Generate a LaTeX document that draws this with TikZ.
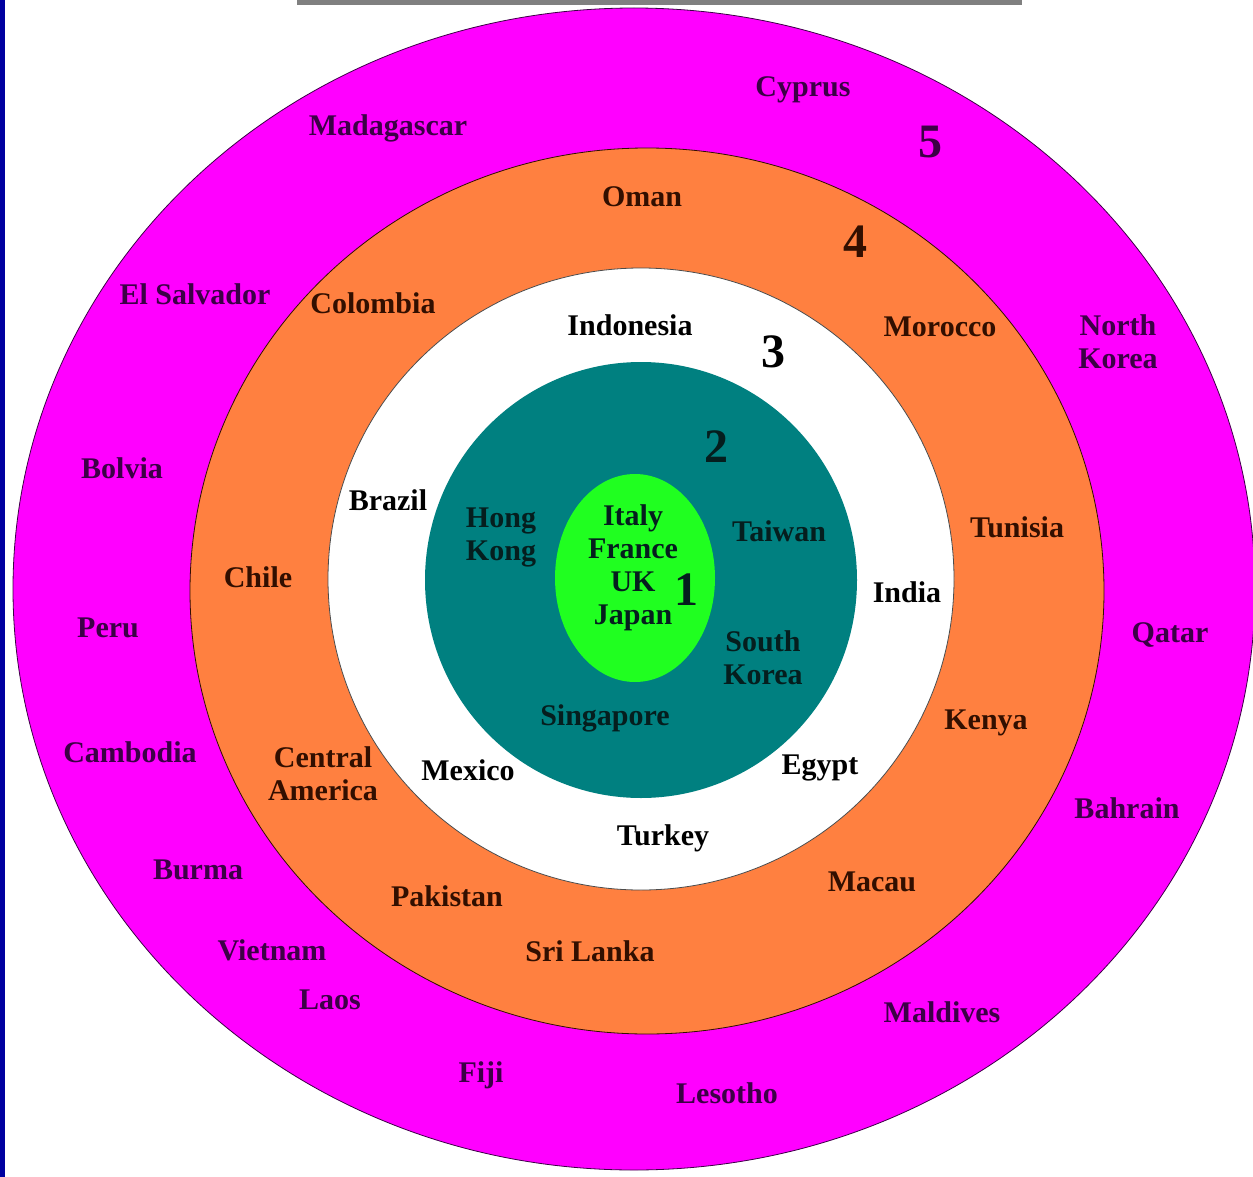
\documentclass[tikz,border=0pt]{standalone}
\usepackage{fontspec}
\setmainfont{Liberation Serif}
\definecolor{ringfive}{RGB}{255,0,255}
\definecolor{ringfour}{RGB}{255,128,64}
\definecolor{ringtwo}{RGB}{0,128,128}
\definecolor{ringone}{RGB}{32,255,32}
\definecolor{sidebar}{RGB}{0,0,160}
\definecolor{inkfive}{RGB}{60,0,70}
\definecolor{inkfour}{RGB}{50,15,0}
\definecolor{inktwo}{RGB}{5,30,30}
\tikzset{
  country/.style={font=\fontsize{15}{16.5}\selectfont\bfseries, align=center, inner sep=0pt},
  ringnum/.style={font=\fontsize{24}{26}\selectfont\bfseries, inner sep=0pt},
}
\begin{document}
\begin{tikzpicture}[x=0.5pt,y=-0.5pt]
\useasboundingbox (0,0) rectangle (1253,1177);
\fill[white] (0,0) rectangle (1253,1177);
\fill[sidebar] (0,0) rectangle (5,1177);
\fill[gray] (297,0) rectangle (1022,5);
% rings, outside in
\draw[fill=ringfive, draw=inkfive, line width=0.4pt] (634,589) ellipse [x radius=621, y radius=581];
\draw[fill=ringfour, draw=inkfour, line width=0.4pt] (647,591) ellipse [x radius=457, y radius=443];
\draw[fill=white, draw=black!70, line width=0.4pt] (641,579) ellipse [x radius=313, y radius=311];
\fill[ringtwo] (641,580) ellipse [x radius=216, y radius=218];
\fill[ringone] (635,578) ellipse [x radius=80, y radius=104];
% ring 5
\node[country, text=inkfive] (cyprus) at (803,90) {Cyprus};
\node[country, text=inkfive] (madagascar) at (388,128) {Madagascar};
\node[ringnum, text=inkfive] (five) at (930,142) {5};
\node[country, text=inkfive] (elsalvador) at (195,294) {El Salvador};
\node[country, text=inkfive] (northkorea) at (1118,342) {North\\Korea};
\node[country, text=inkfive] (bolvia) at (122,468) {Bolvia};
\node[country, text=inkfive] (peru) at (108,628) {Peru};
\node[country, text=inkfive] (qatar) at (1170,635) {Qatar};
\node[country, text=inkfive] (cambodia) at (130,752) {Cambodia};
\node[country, text=inkfive] (bahrain) at (1127,808) {Bahrain};
\node[country, text=inkfive] (burma) at (198,870) {Burma};
\node[country, text=inkfive] (vietnam) at (272,950) {Vietnam};
\node[country, text=inkfive] (laos) at (330,1000) {Laos};
\node[country, text=inkfive] (maldives) at (942,1012) {Maldives};
\node[country, text=inkfive] (fiji) at (481,1075) {Fiji};
\node[country, text=inkfive] (lesotho) at (727,1093) {Lesotho};
% ring 4
\node[country, text=inkfour] (oman) at (642,197) {Oman};
\node[ringnum, text=inkfour] (four) at (855,242) {4};
\node[country, text=inkfour] (colombia) at (373,303) {Colombia};
\node[country, text=inkfour] (morocco) at (940,327) {Morocco};
\node[country, text=inkfour] (tunisia) at (1017,527) {Tunisia};
\node[country, text=inkfour] (chile) at (258,577) {Chile};
\node[country, text=inkfour] (kenya) at (986,723) {Kenya};
\node[country, text=inkfour] (centralam) at (323,774) {Central\\America};
\node[country, text=inkfour] (macau) at (872,882) {Macau};
\node[country, text=inkfour] (pakistan) at (447,896) {Pakistan};
\node[country, text=inkfour] (srilanka) at (590,951) {Sri Lanka};
% ring 3
\node[country] (indonesia) at (630,325) {Indonesia};
\node[ringnum] (three) at (773,352) {3};
\node[country] (brazil) at (388,500) {Brazil};
\node[country] (india) at (907,592) {India};
\node[country] (mexico) at (468,770) {Mexico};
\node[country] (egypt) at (820,768) {Egypt};
\node[country] (turkey) at (663,838) {Turkey};
% ring 2
\node[ringnum, text=inktwo] (two) at (716,447) {2};
\node[country, text=inktwo] (hongkong) at (501,537) {Hong\\Kong};
\node[country, text=inktwo] (taiwan) at (779,531) {Taiwan};
\node[country, text=inktwo] (southkorea) at (763,658) {South\\Korea};
\node[country, text=inktwo] (singapore) at (605,718) {Singapore};
% ring 1
\node[country, text=inktwo] (core) at (633,568) {Italy\\France\\UK\\Japan};
\node[ringnum, text=inktwo] (one) at (686,590) {1};
\end{tikzpicture}
\end{document}
